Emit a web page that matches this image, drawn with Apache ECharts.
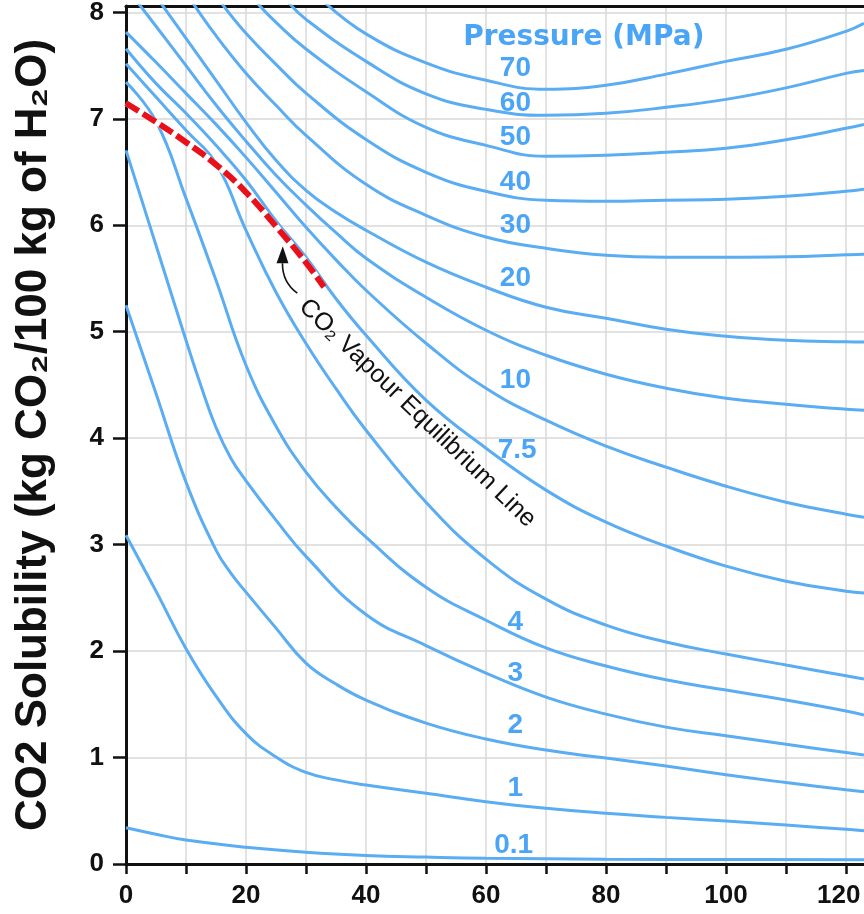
<!DOCTYPE html>
<html>
<head>
<meta charset="utf-8">
<title>CO2 solubility in water</title>
<script src="https://cdn.jsdelivr.net/npm/echarts@6.0.0/dist/echarts.min.js"></script>
<style>
  html, body { margin: 0; padding: 0; background: #fff; }
  #chart { width: 864px; height: 914px; }
</style>
</head>
<body>
<div id="chart"></div>
<script>
// [temperature degC, solubility kg CO2 / 100 kg H2O]
var p70 = [[33, 8.1], [40, 7.798], [50, 7.526], [60, 7.362], [70, 7.277], [80, 7.315], [90, 7.42], [100, 7.54], [110, 7.653], [120, 7.822], [123, 7.897]];
var p60 = [[27, 8.1], [30, 7.934], [40, 7.54], [50, 7.235], [60, 7.089], [70, 7.033], [80, 7.052], [90, 7.108], [100, 7.183], [110, 7.291], [120, 7.427], [123, 7.455]];
var p50 = [[22, 8.08], [25, 7.906], [30, 7.656], [40, 7.255], [50, 6.92], [60, 6.751], [70, 6.648], [80, 6.657], [90, 6.685], [100, 6.723], [110, 6.803], [120, 6.911], [123, 6.948]];
var p40 = [[16, 8.08], [20, 7.803], [25, 7.512], [30, 7.241], [40, 6.806], [50, 6.498], [60, 6.319], [70, 6.235], [80, 6.225], [90, 6.235], [100, 6.244], [110, 6.272], [120, 6.319], [123, 6.338]];
var p30 = [[11, 8.1], [15, 7.781], [20, 7.429], [25, 7.127], [30, 6.845], [40, 6.385], [50, 6.094], [60, 5.89], [70, 5.784], [80, 5.718], [90, 5.7], [100, 5.7], [110, 5.704], [120, 5.723], [123, 5.728]];
var p20 = [[5, 8.15], [10, 7.756], [15, 7.362], [20, 6.967], [25, 6.61], [30, 6.329], [35, 6.122], [40, 5.953], [50, 5.653], [60, 5.418], [70, 5.23], [80, 5.127], [90, 5.023], [100, 4.958], [110, 4.92], [120, 4.906], [123, 4.904]];
var p15 = [[2, 8.09], [5, 7.87], [10, 7.5], [15, 7.13], [20, 6.79], [25, 6.47], [30, 6.19], [35, 5.93], [40, 5.69], [50, 5.324], [60, 5.014], [70, 4.779], [80, 4.601], [90, 4.47], [100, 4.376], [110, 4.319], [120, 4.272], [123, 4.263]];
var p10 = [[0, 7.815], [5, 7.531], [10, 7.239], [15, 6.948], [20, 6.638], [25, 6.31], [30, 5.981], [35, 5.675], [40, 5.39], [50, 4.892], [60, 4.469], [70, 4.169], [80, 3.925], [90, 3.728], [100, 3.549], [110, 3.399], [120, 3.286], [123, 3.258]];
var p7_5 = [[0, 7.659], [5, 7.333], [10, 7.052], [15, 6.751], [20, 6.423], [25, 6.04], [30, 5.7], [35, 5.31], [40, 4.967], [50, 4.357], [60, 3.906], [70, 3.512], [80, 3.211], [90, 2.986], [100, 2.798], [110, 2.657], [120, 2.563], [123, 2.545]];
var p5 = [[0, 7.518], [5, 7.205], [10, 6.892], [15, 6.582], [20, 5.953], [25, 5.371], [30, 4.89], [35, 4.465], [40, 4.075], [50, 3.399], [60, 2.864], [70, 2.488], [80, 2.244], [90, 2.085], [100, 1.972], [110, 1.869], [120, 1.768], [123, 1.737]];
var p4 = [[0, 7.345], [5, 6.977], [10, 6.253], [15, 5.484], [20, 4.685], [25, 4.113], [30, 3.681], [35, 3.35], [40, 3.07], [50, 2.6], [60, 2.29], [70, 2.03], [80, 1.86], [90, 1.73], [100, 1.634], [110, 1.54], [120, 1.437], [123, 1.399]];
var p3 = [[0, 6.704], [5, 5.812], [10, 4.92], [12.5, 4.49], [15, 4.1], [17.5, 3.81], [20, 3.6], [25, 3.23], [30, 2.89], [40, 2.344], [50, 2.052], [60, 1.793], [70, 1.568], [80, 1.408], [90, 1.286], [100, 1.205], [110, 1.125], [120, 1.047], [123, 1.023]];
var p2 = [[0, 5.249], [5, 4.42], [10, 3.587], [15, 2.948], [17.5, 2.73], [20, 2.554], [25, 2.216], [30, 1.887], [35, 1.69], [40, 1.54], [50, 1.324], [60, 1.174], [70, 1.07], [80, 0.995], [90, 0.92], [100, 0.838], [110, 0.765], [120, 0.697], [123, 0.679]];
var p1 = [[0, 3.089], [5, 2.563], [10, 2.023], [15, 1.577], [20, 1.225], [25, 1.006], [30, 0.86], [35, 0.79], [40, 0.742], [50, 0.664], [60, 0.585], [70, 0.523], [80, 0.476], [90, 0.438], [100, 0.404], [110, 0.366], [120, 0.326], [123, 0.313]];
var p0_1 = [[0, 0.341], [5, 0.28], [10, 0.225], [20, 0.157], [30, 0.11], [40, 0.08], [50, 0.065], [60, 0.054], [80, 0.045], [100, 0.042], [123, 0.04]];

// liquid / vapour CO2 boundary, ends at the critical point
var vapourLine = [[0, 7.146], [5, 6.97], [10, 6.78], [15, 6.57], [20, 6.31], [25, 5.99], [30, 5.65], [33, 5.42]];

var isobars = [p70, p60, p50, p40, p30, p20, p15, p10, p7_5, p5, p4, p3, p2, p1, p0_1];

// curve labels, written next to the curves at about 65 degC
var labelText = ['70', '60', '50', '40', '30', '20', '10', '7.5', '4', '3', '2', '1', '0.1'];
var labelSpot = [[64.9, 7.474], [64.9, 7.146], [64.9, 6.826], [64.9, 6.404], [64.9, 6.0], [64.9, 5.502], [64.9, 4.545], [65.2, 3.887], [64.9, 2.272], [64.9, 1.793], [64.9, 1.305], [64.9, 0.714], [64.6, 0.178]];

var xTicks = [0, 10, 20, 30, 40, 50, 60, 70, 80, 90, 100, 110, 120];
var xLabels = [0, 20, 40, 60, 80, 100, 120];
var yTicks = [0, 1, 2, 3, 4, 5, 6, 7, 8];

var ink = '#111';
var curveBlue = '#5AADF2';
var textBlue = '#1E8EF5';
var sans = "'Liberation Sans', Arial, sans-serif";

var chart = echarts.init(document.getElementById('chart'), null, { renderer: 'canvas' });

var series = isobars.map(function (d) {
    return {
        type: 'line',
        data: d,
        smooth: 0.45,
        symbol: 'none',
        silent: true,
        z: 2,
        lineStyle: { color: curveBlue, width: 3 }
    };
});

// white bed under the red dashes so the gaps read as white
series.push({
    type: 'line', data: vapourLine, smooth: 0.45, symbol: 'none', silent: true, z: 3,
    lineStyle: { color: '#fff', width: 6 }
});
series.push({
    type: 'line', data: vapourLine, smooth: 0.45, symbol: 'none', silent: true, z: 4,
    lineStyle: { color: '#E8101A', width: 6, type: [15, 5] }
});

series.push({
    type: 'scatter',
    symbolSize: 1,
    silent: true,
    z: 5,
    itemStyle: { color: 'rgba(0,0,0,0)' },
    data: labelSpot.map(function (p, i) { return { value: p, name: labelText[i] }; }),
    label: {
        show: true,
        position: 'inside',
        formatter: function (p) { return p.name; },
        color: textBlue,
        fontSize: 28,
        fontWeight: 'bold',
        fontFamily: sans
    }
});

series.push({
    type: 'scatter',
    symbolSize: 1,
    silent: true,
    z: 5,
    itemStyle: { color: 'rgba(0,0,0,0)' },
    data: [{ value: [76.3, 7.765], name: 'Pressure (MPa)' }],
    label: {
        show: true,
        position: 'inside',
        formatter: function (p) { return p.name; },
        color: textBlue,
        fontSize: 28,
        fontWeight: 'bold',
        fontFamily: "'DejaVu Sans', sans-serif"
    }
});

var tickFont = { fontSize: 26, fontWeight: 'bold', color: ink, fontFamily: sans };

var option = {
    animation: false,
    backgroundColor: '#fff',
    grid: { left: 126, right: 0, top: 6, bottom: 50, outerBoundsMode: 'none', containLabel: false },
    xAxis: [{
        type: 'value',
        min: 0,
        max: 123,
        interval: 10,
        axisLine: { lineStyle: { color: ink, width: 3 } },
        axisTick: { length: 10, customValues: xTicks, lineStyle: { color: ink, width: 2.5 } },
        axisLabel: Object.assign({
            customValues: xLabels,
            // trailing spaces nudge the last label left so it stays on the page
            formatter: function (v) {
                if (v % 20 !== 0) return '';
                return v === 120 ? v + '\u00a0\u00a0' : String(v);
            },
            margin: 19
        }, tickFont),
        splitLine: { show: true, lineStyle: { color: '#d8d8d8', width: 1.5 } }
    }, {
        type: 'value',
        position: 'top',
        min: 0,
        max: 123,
        axisLine: { show: true, lineStyle: { color: ink, width: 3 } },
        axisTick: { show: false },
        axisLabel: { show: false },
        splitLine: { show: false }
    }],
    yAxis: {
        type: 'value',
        min: 0,
        max: 8.06,
        interval: 1,
        name: 'CO2 Solubility (kg CO\u2082/100 kg of H\u2082O)',
        nameLocation: 'middle',
        nameRotate: 90,
        nameGap: 70,
        nameTextStyle: { fontSize: 44, fontWeight: 'bold', color: ink, fontFamily: sans },
        axisLine: { show: true, lineStyle: { color: ink, width: 3 } },
        axisTick: { show: true, length: 13, customValues: yTicks, lineStyle: { color: ink, width: 2.5 } },
        axisLabel: Object.assign({
            customValues: yTicks,
            formatter: function (v) { return Number.isInteger(v) ? v : ''; },
            margin: 22
        }, tickFont),
        splitLine: { show: true, lineStyle: { color: '#d8d8d8', width: 1.5 } }
    },
    series: series
};

chart.setOption(option);

// arrow and slanted note for the vapour line, anchored in data units
var arrowTail = [28.55, 5.362];
var arrowBend = [26.05, 5.559];
var arrowTip = [26.13, 5.803];
var noteCentre = [48.55, 4.235];

function px(p) { return chart.convertToPixel({ gridIndex: 0 }, p); }

var t = px(arrowTail), b = px(arrowBend), h = px(arrowTip);
var dx = h[0] - b[0], dy = h[1] - b[1];
var len = Math.sqrt(dx * dx + dy * dy);
var ux = dx / len, uy = dy / len;
var headLen = 17, headHalf = 6;
var base = [h[0] - ux * headLen, h[1] - uy * headLen];
var n = px(noteCentre);

chart.setOption({
    graphic: [{
        type: 'bezierCurve',
        silent: true,
        z: 10,
        shape: { x1: t[0], y1: t[1], x2: base[0], y2: base[1], cpx1: b[0], cpy1: b[1] + 10 },
        style: { stroke: ink, lineWidth: 1.6, fill: null }
    }, {
        type: 'polygon',
        silent: true,
        z: 10,
        shape: {
            points: [
                h,
                [base[0] - uy * headHalf, base[1] + ux * headHalf],
                [base[0] + uy * headHalf, base[1] - ux * headHalf]
            ]
        },
        style: { fill: ink }
    }, {
        type: 'text',
        silent: true,
        z: 10,
        x: n[0],
        y: n[1],
        rotation: -0.765,
        style: {
            text: 'CO\u2082 Vapour Equilibrium Line',
            fontSize: 25,
            fontFamily: sans,
            fill: ink,
            align: 'center',
            verticalAlign: 'middle'
        }
    }]
});
</script>
</body>
</html>
